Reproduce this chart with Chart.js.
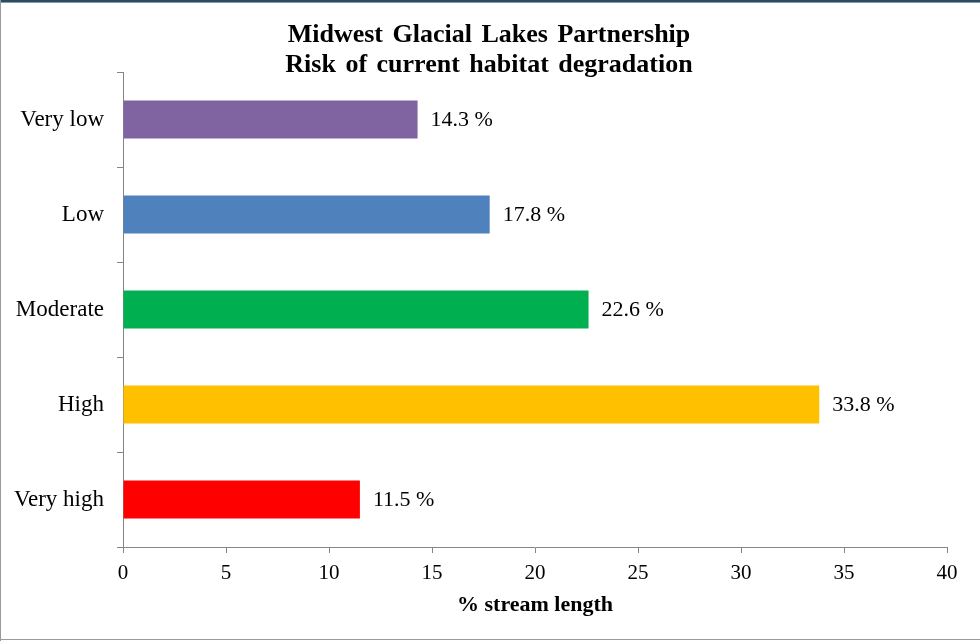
<!DOCTYPE html>
<html>
<head>
<meta charset="utf-8">
<title>Midwest Glacial Lakes Partnership – Risk of current habitat degradation</title>
<script src="https://cdn.jsdelivr.net/npm/chart.js@4"></script>
<style>
  html, body { margin: 0; padding: 0; background: #fff; }
  #frame { position: relative; width: 980px; height: 641px; overflow: hidden; }
  #chart { position: absolute; left: 0; top: 0; }
  .edge { position: absolute; pointer-events: none; }
  #topDark { left: 0; top: 0; width: 980px; height: 2px; background: #2b4d63; }
  #topLight { left: 0; top: 2px; width: 980px; height: 1px; background: #8b9ba6; }
  #leftEdge { left: 0; top: 0; width: 1px; height: 641px; background: #9a9a9a; }
  #bottomEdge { left: 0; top: 639px; width: 980px; height: 1px; background: #9a9a9a; }
</style>
</head>
<body>
<div id="frame">
  <canvas id="chart" width="980" height="641"></canvas>
  <div class="edge" id="topDark"></div>
  <div class="edge" id="topLight"></div>
  <div class="edge" id="leftEdge"></div>
  <div class="edge" id="bottomEdge"></div>
</div>
<script>
// Risk classes, top to bottom
const categories = ['Very low', 'Low', 'Moderate', 'High', 'Very high'];
// Share of stream length in each class (%)
const streamShare = [14.3, 17.8, 22.6, 33.8, 11.5];
const barColors = ['#8064A2', '#4F81BD', '#00B050', '#FFC000', '#FF0000'];
const titleLines = ['Midwest Glacial Lakes Partnership', 'Risk of current habitat degradation'];
const xTicks = [0, 5, 10, 15, 20, 25, 30, 35, 40];
const xTitle = '% stream length';

Chart.defaults.font.family = "'Liberation Serif', 'Times New Roman', serif";
Chart.defaults.color = '#000';

const axisGray = '#868686';

// Two-line heading drawn above the plot
const headingPlugin = {
  id: 'heading',
  afterDraw(chart) {
    const ctx = chart.ctx;
    ctx.save();
    ctx.fillStyle = '#000';
    ctx.font = "bold 26px 'Liberation Serif', 'Times New Roman', serif";
    if ('wordSpacing' in ctx) ctx.wordSpacing = '3px';
    ctx.textAlign = 'center';
    ctx.textBaseline = 'alphabetic';
    const cx = 489;
    ctx.fillText(titleLines[0], cx, 42);
    ctx.fillText(titleLines[1], cx, 72);
    ctx.restore();
  }
};

// Value labels placed just past the end of each bar
const valueLabelPlugin = {
  id: 'valueLabels',
  afterDatasetsDraw(chart) {
    const ctx = chart.ctx;
    const meta = chart.getDatasetMeta(0);
    ctx.save();
    ctx.fillStyle = '#000';
    ctx.font = "22px 'Liberation Serif', 'Times New Roman', serif";
    ctx.textAlign = 'left';
    ctx.textBaseline = 'middle';
    meta.data.forEach((bar, i) => {
      const v = chart.data.datasets[0].data[i];
      ctx.fillText(v.toFixed(1) + ' %', bar.x + 13, bar.y + 1);
    });
    ctx.restore();
  }
};

new Chart(document.getElementById('chart'), {
  type: 'bar',
  data: {
    labels: categories,
    datasets: [{
      data: streamShare,
      backgroundColor: barColors,
      borderWidth: 0,
      barPercentage: 0.4,
      categoryPercentage: 1.0
    }]
  },
  options: {
    indexAxis: 'y',
    responsive: false,
    animation: false,
    devicePixelRatio: 1,
    layout: { padding: { top: 72, right: 33, left: 0, bottom: 0 } },
    plugins: {
      legend: { display: false },
      title: { display: false },
      tooltip: { enabled: false }
    },
    scales: {
      y: {
        type: 'category',
        offset: true,
        border: { display: true, color: axisGray, width: 1 },
        grid: {
          offset: true,
          drawOnChartArea: false,
          drawTicks: true,
          tickLength: 6,
          color: axisGray
        },
        ticks: {
          padding: 13,
          font: { size: 23 },
          color: '#000'
        },
        afterFit(scale) { scale.width = 123; }
      },
      x: {
        type: 'linear',
        min: 0,
        max: 40,
        afterBuildTicks(scale) { scale.ticks = xTicks.map(v => ({ value: v })); },
        border: { display: true, color: axisGray, width: 1 },
        grid: {
          drawOnChartArea: false,
          drawTicks: true,
          tickLength: 6,
          color: axisGray
        },
        ticks: {
          padding: 8,
          maxRotation: 0,
          font: { size: 21 },
          color: '#000'
        },
        title: {
          display: true,
          text: xTitle,
          font: { size: 22, weight: 'bold' },
          color: '#000',
          padding: { top: 0, bottom: 22 }
        },
        afterFit(scale) { scale.height = 94; }
      }
    }
  },
  plugins: [headingPlugin, valueLabelPlugin]
});
</script>
</body>
</html>
